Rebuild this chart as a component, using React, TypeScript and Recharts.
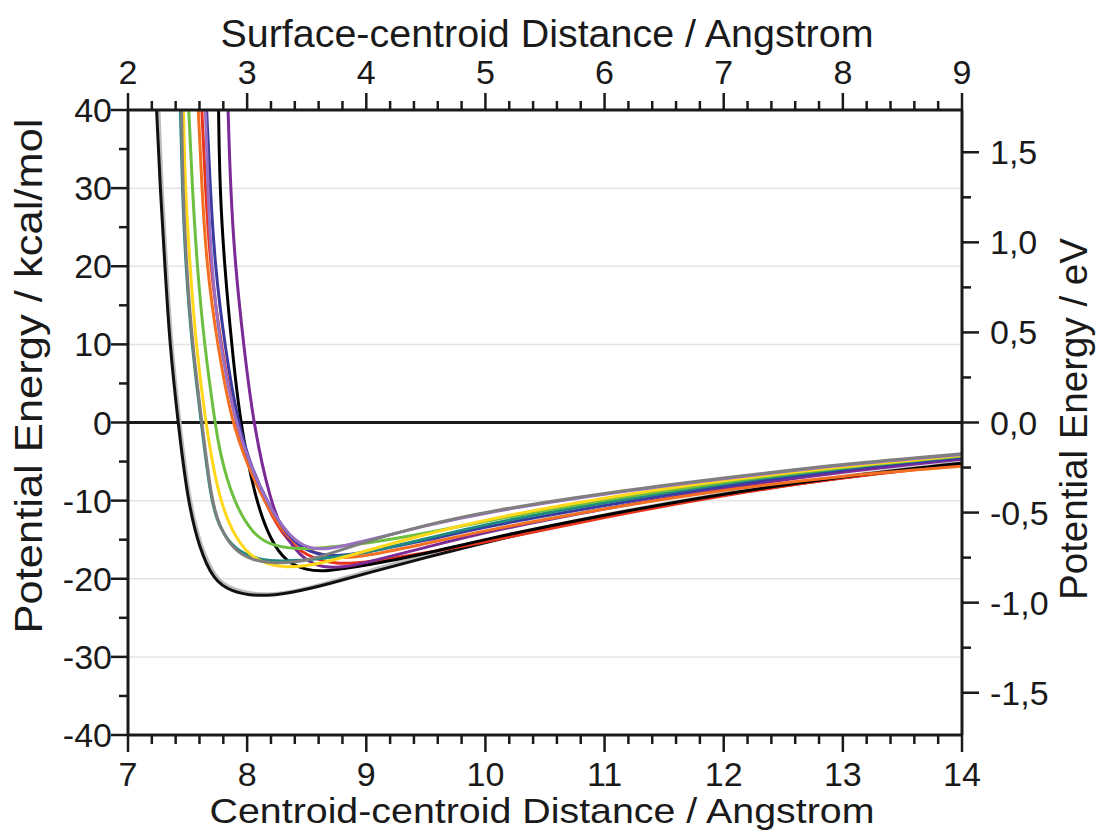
import { CartesianGrid, Label, Line, LineChart, ReferenceLine, XAxis, YAxis } from "recharts";

// [centroid-centroid distance (Å), energy (kcal/mol)]
const blackA = [[7.24, 40], [7.27, 30], [7.31, 20], [7.35, 10], [7.42, 0], [7.5, -10], [7.6, -16.2], [7.72, -20.2], [7.86, -21.6], [8.08, -22.3], [8.35, -21.9], [8.7, -20.6], [9.0, -19.3], [9.5, -17.3], [10, -15.3], [11, -11.9], [12, -9.2], [13, -7.0], [14, -5.3]];
const lightGray = [[7.26, 40], [7.285, 30], [7.325, 20], [7.365, 10], [7.435, 0], [7.515, -10], [7.615, -16], [7.735, -20], [7.88, -21.4], [8.1, -22.1], [8.38, -21.7], [8.7, -20.4], [9.0, -19.0], [9.5, -17.0], [10, -15.0], [11, -11.7], [12, -9.0], [13, -6.8], [14, -5.1]];
const gray = [[7.45, 40], [7.46, 30], [7.49, 20], [7.54, 10], [7.62, 0], [7.7, -10], [7.77, -13.4], [7.88, -16.2], [8.03, -17.6], [8.2, -18.0], [8.4, -17.9], [8.6, -17.3], [9.0, -15.2], [9.5, -13.1], [10, -11.4], [11, -9.0], [12, -7.1], [13, -5.3], [14, -4.0]];
const teal = [[7.44, 40], [7.455, 30], [7.485, 20], [7.535, 10], [7.615, 0], [7.695, -10], [7.77, -13.6], [7.9, -16.4], [8.1, -17.6], [8.3, -17.8], [8.6, -17.5], [9.0, -16.7], [9.5, -14.9], [10, -13.0], [11, -10.2], [12, -7.8], [13, -5.8], [14, -4.3]];
const yellow = [[7.465, 40], [7.48, 30], [7.52, 20], [7.57, 10], [7.65, 0], [7.76, -9.8], [7.9, -14.8], [8.05, -17.6], [8.3, -18.7], [8.6, -18.2], [9.0, -16.4], [9.5, -14.3], [10, -12.4], [11, -9.6], [12, -7.4], [13, -5.6], [14, -4.2]];
const green = [[7.51, 40], [7.54, 30], [7.58, 20], [7.64, 10], [7.73, 0], [7.77, -3.8], [7.88, -10], [8.05, -14.4], [8.2, -15.7], [8.4, -16.2], [8.6, -16.1], [9.0, -15.5], [9.5, -14.2], [10, -12.6], [11, -9.9], [12, -7.6], [13, -5.7], [14, -4.3]];
const orange = [[7.59, 40], [7.62, 30], [7.66, 20], [7.75, 10], [7.87, 0], [8.01, -5.7], [8.14, -10], [8.32, -14.4], [8.46, -16.2], [8.75, -17.5], [9.0, -17.1], [9.5, -15.5], [10, -13.8], [11, -11.0], [12, -8.6], [13, -6.8], [14, -5.6]];
const red = [[7.62, 40], [7.65, 30], [7.69, 20], [7.78, 10], [7.9, 0], [8.03, -6], [8.15, -10.2], [8.3, -14.6], [8.5, -17.2], [8.75, -18.2], [9.0, -17.9], [9.5, -16.7], [10, -15.3], [11, -12.1], [12, -9.3], [13, -7.0], [14, -5.4]];
const lavender = [[7.65, 40], [7.67, 30], [7.7, 20], [7.77, 10], [7.9, 0], [8.04, -6], [8.16, -10], [8.33, -14.2], [8.48, -16.0], [8.65, -16.4], [9.0, -15.1], [9.5, -13.2], [10, -11.5], [11, -9.1], [12, -7.2], [13, -5.4], [14, -4.1]];
const darkBlue = [[7.66, 40], [7.69, 30], [7.73, 20], [7.81, 10], [7.92, 0], [8.04, -6], [8.17, -10.2], [8.35, -14.8], [8.52, -16.7], [8.75, -17.2], [9.0, -16.6], [9.5, -15.1], [10, -13.3], [11, -10.6], [12, -8.1], [13, -6.0], [14, -4.5]];
const blackB = [[7.76, 40], [7.77, 30], [7.81, 20], [7.87, 10], [7.94, 0], [8.07, -10], [8.2, -15.2], [8.33, -17.9], [8.5, -18.9], [8.65, -19.1], [9.0, -18.3], [9.5, -16.8], [10, -14.9], [11, -11.8], [12, -9.1], [13, -6.9], [14, -5.2]];
const purple = [[7.84, 40], [7.86, 30], [7.9, 20], [7.97, 10], [8.05, 0], [8.19, -10], [8.33, -15.2], [8.55, -18.7], [8.85, -18.5], [9.0, -17.9], [9.5, -16.0], [10, -14.0], [11, -11.0], [12, -8.4], [13, -6.3], [14, -4.7]];

const series: { name: string; color: string; points: number[][] }[] = [
  { name: "lightGray", color: "#bdbdbd", points: lightGray },
  { name: "blackA", color: "#111111", points: blackA },
  { name: "red", color: "#e8341c", points: red },
  { name: "blackB", color: "#000000", points: blackB },
  { name: "purple", color: "#7b2a96", points: purple },
  { name: "orange", color: "#f36f21", points: orange },
  { name: "darkBlue", color: "#3a3aa0", points: darkBlue },
  { name: "teal", color: "#1f8a80", points: teal },
  { name: "green", color: "#6cbf3f", points: green },
  { name: "yellow", color: "#ffd81a", points: yellow },
  { name: "lavender", color: "#9b6fc4", points: lavender },
  { name: "gray", color: "#7f7f7f", points: gray },
];

const KCAL_PER_EV = 23.06;
const bottomMajor = [7, 8, 9, 10, 11, 12, 13, 14];
const topMajor = [2, 3, 4, 5, 6, 7, 8, 9];
const leftMajor = [-40, -30, -20, -10, 0, 10, 20, 30, 40];
const rightMajor = [-1.5, -1, -0.5, 0, 0.5, 1, 1.5];
const gridValues = [-30, -20, -10, 10, 20, 30];

const steps = (from: number, to: number, step: number) => {
  const out: number[] = [];
  for (let v = from; v <= to + 1e-9; v += step) out.push(Math.round(v * 1000) / 1000);
  return out;
};

const FONT = "Arial, 'Liberation Sans', sans-serif";
const INK = "#1a1a1a";

function makeTick(side: "top" | "bottom" | "left" | "right", majors: number[], fmt: (v: number) => string) {
  return (props: any) => {
    const { x, y, payload } = props;
    const v = payload.value;
    const major = majors.some((m) => Math.abs(m - v) < 1e-6);
    const len = major ? 17 : 9;
    let line;
    let text = null;
    if (side === "bottom") {
      line = <line x1={x} y1={y} x2={x} y2={y + len} />;
      if (major) text = <text x={x} y={y + 51} textAnchor="middle">{fmt(v)}</text>;
    } else if (side === "top") {
      line = <line x1={x} y1={y} x2={x} y2={y - len} />;
      if (major) text = <text x={x} y={y - 26} textAnchor="middle">{fmt(v)}</text>;
    } else if (side === "left") {
      line = <line x1={x} y1={y} x2={x - len} y2={y} />;
      if (major) text = <text x={x - 16} y={y + 12} textAnchor="end">{fmt(v)}</text>;
    } else {
      line = <line x1={x} y1={y} x2={x + len} y2={y} />;
      if (major) text = <text x={x + 28} y={y + 12} textAnchor="start">{fmt(v)}</text>;
    }
    return (
      <g stroke={INK} strokeWidth={2.5}>
        {line}
        {text && (
          <g stroke="none" fill={INK} fontFamily={FONT} fontSize={34}>
            {text}
          </g>
        )}
      </g>
    );
  };
}

const comma = (v: number) => v.toFixed(1).replace(".", ",");

export default function App() {
  return (
    <div style={{ position: "absolute", left: 0, top: 0, background: "#fff" }}>
      <LineChart width={1097} height={833} margin={{ top: 0, right: 0, bottom: 0, left: 0 }}>
        <CartesianGrid vertical={false} horizontalValues={gridValues} stroke="#e3e3e3" strokeWidth={1.5} yAxisId="left" xAxisId="bottom" />
        <XAxis
          xAxisId="bottom"
          type="number"
          dataKey="x"
          orientation="bottom"
          domain={[7, 14]}
          ticks={steps(7, 14, 0.2)}
          interval={0}
          height={98}
          tickSize={0}
          tickMargin={0}
          tickLine={false}
          axisLine={{ stroke: INK, strokeWidth: 3 }}
          tick={makeTick("bottom", bottomMajor, (v) => String(v))}
          allowDataOverflow
        >
          <Label
            content={() => (
              <text x={542} y={823} textAnchor="middle" fontFamily={FONT} fontSize={35} fill={INK} textLength={665} lengthAdjust="spacingAndGlyphs">
                Centroid-centroid Distance / Angstrom
              </text>
            )}
          />
        </XAxis>
        <XAxis
          xAxisId="top"
          type="number"
          dataKey="x"
          orientation="top"
          domain={[2, 9]}
          ticks={steps(2, 9, 0.2)}
          interval={0}
          height={110}
          tickSize={0}
          tickMargin={0}
          tickLine={false}
          axisLine={{ stroke: INK, strokeWidth: 3 }}
          tick={makeTick("top", topMajor, (v) => String(v))}
          allowDataOverflow
        >
          <Label
            content={() => (
              <text x={547} y={47} textAnchor="middle" fontFamily={FONT} fontSize={38} fill={INK} textLength={653} lengthAdjust="spacingAndGlyphs">
                Surface-centroid Distance / Angstrom
              </text>
            )}
          />
        </XAxis>
        <YAxis
          yAxisId="left"
          type="number"
          orientation="left"
          domain={[-40, 40]}
          ticks={steps(-40, 40, 5)}
          interval={0}
          width={128}
          tickSize={0}
          tickMargin={0}
          tickLine={false}
          axisLine={{ stroke: INK, strokeWidth: 3 }}
          tick={makeTick("left", leftMajor, (v) => String(v))}
          allowDataOverflow
        >
          <Label
            content={() => (
              <text x={42} y={376} transform="rotate(-90 42 376)" textAnchor="middle" fontFamily={FONT} fontSize={39} fill={INK} textLength={515} lengthAdjust="spacingAndGlyphs">
                Potential Energy / kcal/mol
              </text>
            )}
          />
        </YAxis>
        <YAxis
          yAxisId="right"
          type="number"
          orientation="right"
          domain={[-40 / KCAL_PER_EV, 40 / KCAL_PER_EV]}
          ticks={steps(-1.5, 1.5, 0.25)}
          interval={0}
          width={135}
          tickSize={0}
          tickMargin={0}
          tickLine={false}
          axisLine={{ stroke: INK, strokeWidth: 3 }}
          tick={makeTick("right", rightMajor, comma)}
          allowDataOverflow
        >
          <Label
            content={() => (
              <text x={1087} y={419} transform="rotate(-90 1087 419)" textAnchor="middle" fontFamily={FONT} fontSize={38} fill={INK} textLength={362} lengthAdjust="spacingAndGlyphs">
                Potential Energy / eV
              </text>
            )}
          />
        </YAxis>
        <ReferenceLine y={0} yAxisId="left" xAxisId="bottom" stroke={INK} strokeWidth={3} />
        {series.map((s) => (
          <Line
            key={s.name}
            xAxisId="bottom"
            yAxisId="left"
            data={s.points.map(([x, y]) => ({ x, y }))}
            dataKey="y"
            type="basis"
            stroke={s.color}
            strokeWidth={3}
            dot={false}
            isAnimationActive={false}
          />
        ))}
      </LineChart>
    </div>
  );
}
